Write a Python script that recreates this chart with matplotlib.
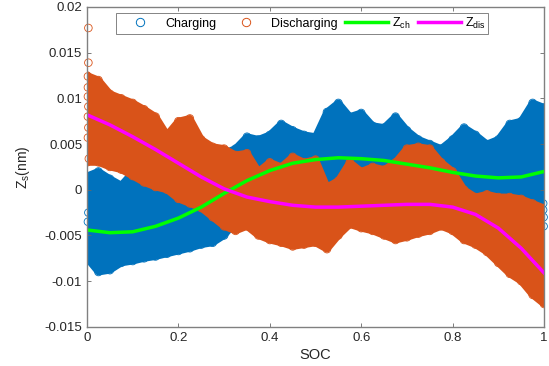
import numpy as np
import matplotlib
matplotlib.use("Agg")
import matplotlib.pyplot as plt
from matplotlib.lines import Line2D

plt.rcParams['font.family'] = ['Liberation Sans', 'DejaVu Sans']
plt.rcParams['mathtext.fontset'] = 'custom'
plt.rcParams['mathtext.rm'] = 'Liberation Sans'
plt.rcParams['mathtext.it'] = 'Liberation Sans'

# SOC grid of the band envelopes
soc_band = [0.0, 0.025, 0.05, 0.075, 0.1, 0.125, 0.15, 0.175, 0.2, 0.225, 0.25,
            0.275, 0.3, 0.325, 0.35, 0.375, 0.4, 0.425, 0.45, 0.475, 0.5,
            0.525, 0.55, 0.575, 0.6, 0.625, 0.65, 0.675, 0.7, 0.725, 0.75,
            0.775, 0.8, 0.825, 0.85, 0.875, 0.9, 0.925, 0.95, 0.975, 1.0]

ch_top = [0.0015, 0.0020, 0.0012, 0.0005, 0.0019, 0.0012, 0.0008, 0.0010, 0.0012, 0.0015, 0.0020,
          0.0030, 0.0040, 0.0045, 0.0058, 0.0055, 0.0060, 0.0072, 0.0065, 0.0060, 0.0058,
          0.0085, 0.0095, 0.0080, 0.0084, 0.0070, 0.0068, 0.0080, 0.0065, 0.0055, 0.0050,
          0.0045, 0.0055, 0.0068, 0.0060, 0.0050, 0.0055, 0.0072, 0.0075, 0.0095, 0.0090]
ch_bot = [-0.0075, -0.0090, -0.0088, -0.0080, -0.0078, -0.0075, -0.0073, -0.0070, -0.0067, -0.0064, -0.0060,
          -0.0058, -0.0050, -0.0035, -0.0030, -0.0030, -0.0030, -0.0030, -0.0030, -0.0030, -0.0030,
          -0.0030, -0.0030, -0.0030, -0.0030, -0.0030, -0.0030, -0.0030, -0.0030, -0.0030, -0.0030,
          -0.0030, -0.0030, -0.0032, -0.0035, -0.0035, -0.0038, -0.0040, -0.0040, -0.0042, -0.0045]

dis_top = [0.0125, 0.0120, 0.0105, 0.0100, 0.0095, 0.0088, 0.0080, 0.0060, 0.0075, 0.0078, 0.0055,
           0.0047, 0.0045, 0.0038, 0.0040, 0.0020, 0.0030, 0.0025, 0.0036, 0.0030, 0.0033,
           0.0003, 0.0010, 0.0030, 0.0020, 0.0025, 0.0022, 0.0030, 0.0045, 0.0047, 0.0045,
           0.0030, 0.0020, 0.0000, -0.0008, -0.0005, -0.0008, -0.0008, -0.0010, -0.0015, -0.0020]
dis_bot = [0.0030, 0.0030, 0.0025, 0.0022, 0.0015, 0.0008, 0.0003, 0.0000, -0.0010, -0.0015, -0.0020,
           -0.0030, -0.0040, -0.0045, -0.0040, -0.0050, -0.0055, -0.0058, -0.0062, -0.0060, -0.0058,
           -0.0065, -0.0050, -0.0038, -0.0042, -0.0045, -0.0050, -0.0055, -0.0052, -0.0048, -0.0045,
           -0.0040, -0.0045, -0.0055, -0.0060, -0.0068, -0.0080, -0.0092, -0.0100, -0.0115, -0.0125]

# isolated points at the ends
dis_out_soc = [0.003, 0.003, 0.002, 0.002, 0.002, 0.003, 0.002, 0.003, 0.002, 0.004]
dis_out_z = [0.0177, 0.0139, 0.0124, 0.0112, 0.0102, 0.0091, 0.0080, 0.0068, 0.0057, 0.0034]
ch_out_soc = [0.998, 0.998, 0.999, 0.999, 0.002, 0.003]
ch_out_z = [-0.0015, -0.0022, -0.0030, -0.0040, -0.0035, -0.0025]

# fitted curves
soc_fit = [0.0, 0.05, 0.1, 0.15, 0.2, 0.25, 0.3, 0.35, 0.4, 0.45, 0.5,
           0.55, 0.6, 0.65, 0.7, 0.75, 0.8, 0.85, 0.9, 0.95, 1.0]
z_ch = [-0.0044, -0.0047, -0.0046, -0.0040, -0.0031, -0.0019, -0.0004, 0.0010, 0.0021, 0.0029, 0.0033,
        0.0035, 0.0034, 0.0032, 0.0028, 0.0024, 0.0019, 0.0015, 0.0013, 0.0014, 0.0020]
z_dis = [0.0082, 0.0071, 0.0058, 0.0044, 0.0029, 0.0014, 0.0001, -0.0008, -0.0013, -0.0017, -0.0019,
         -0.0019, -0.0018, -0.0017, -0.0016, -0.0016, -0.0019, -0.0027, -0.0042, -0.0064, -0.0091]

xticks = [0, 0.2, 0.4, 0.6, 0.8, 1]
xtick_labels = ["0", "0.2", "0.4", "0.6", "0.8", "1"]
yticks = [-0.015, -0.01, -0.005, 0, 0.005, 0.01, 0.015, 0.02]
ytick_labels = ["-0.015", "-0.01", "-0.005", "0", "0.005", "0.01", "0.015", "0.02"]

c_ch = '#0072BD'
c_dis = '#D95319'

fig = plt.figure(figsize=(5.49, 3.66), dpi=100)
ax = fig.add_axes([0.1585, 0.107, 0.8325, 0.874])

# charging band first, discharging band drawn over it
for k, (top, bot, c) in enumerate([(ch_top, ch_bot, c_ch), (dis_top, dis_bot, c_dis)]):
    z = 1 + k
    ax.fill_between(soc_band, bot, top, color=c, lw=0, zorder=z)
    for env in (top, bot):
        ax.plot(soc_band, env, color=c, lw=5, solid_capstyle='round',
                solid_joinstyle='round', zorder=z)
        ax.scatter(soc_band, env, s=30, facecolors='none', edgecolors=c,
                   linewidths=0.6, zorder=z)

ax.scatter(ch_out_soc, ch_out_z, s=30, facecolors='none', edgecolors=c_ch,
           linewidths=0.6, clip_on=False, zorder=1)
ax.scatter(dis_out_soc, dis_out_z, s=30, facecolors='none', edgecolors=c_dis,
           linewidths=0.6, clip_on=False, zorder=2)

ax.plot(soc_fit, z_ch, color='#00FF00', lw=2.5, zorder=3)
ax.plot(soc_fit, z_dis, color='#FF00FF', lw=2.5, zorder=3)

ax.set_xlim(0, 1)
ax.set_ylim(-0.015, 0.02)
ax.set_xticks(xticks)
ax.set_xticklabels(xtick_labels)
ax.set_yticks(yticks)
ax.set_yticklabels(ytick_labels)
ax.tick_params(direction='in', top=True, right=True, labelsize=9.5,
               color='0.4', length=3, width=0.6, labelcolor='0.15')
for sp in ax.spines.values():
    sp.set_color('0.5')
    sp.set_linewidth(1.0)
    sp.set_zorder(5)

ax.set_xlabel('SOC', fontsize=10.5, labelpad=3, color='0.15')
ax.set_ylabel(r'$\mathrm{Z_s}$(nm)', fontsize=10, labelpad=9, color='0.15')

handles = [
    Line2D([], [], ls='none', marker='o', mfc='none', mec=c_ch, ms=6, mew=0.7),
    Line2D([], [], ls='none', marker='o', mfc='none', mec=c_dis, ms=6, mew=0.7),
    Line2D([], [], color='#00FF00', lw=2.5),
    Line2D([], [], color='#FF00FF', lw=2.5),
]
labels = ['Charging', 'Discharging', r'$\mathrm{Z_{ch}}$', r'$\mathrm{Z_{dis}}$']
leg = ax.legend(handles, labels, ncol=4, loc='upper left', bbox_to_anchor=(0.063, 0.982),
                fontsize=9, frameon=True, fancybox=False, edgecolor='0.3',
                borderpad=0.25, borderaxespad=0, handlelength=3.4,
                columnspacing=0.65, handletextpad=0.3)
leg.get_frame().set_linewidth(0.6)
leg.set_zorder(6)

fig.savefig('out.png', dpi=100)
